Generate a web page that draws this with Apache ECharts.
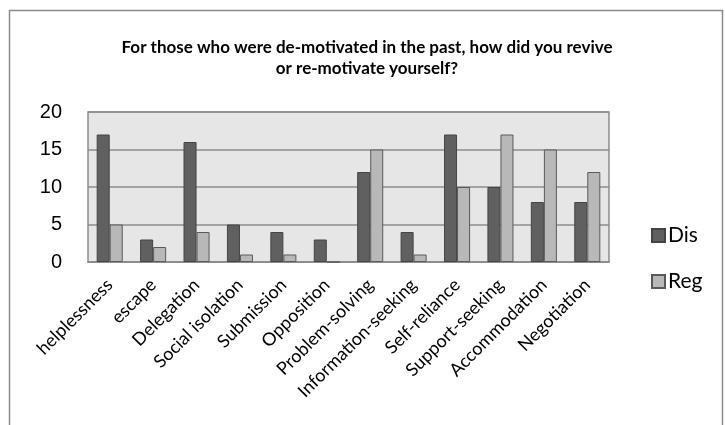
<!DOCTYPE html>
<html>
<head>
<meta charset="utf-8">
<script src="https://cdn.jsdelivr.net/npm/echarts@6/dist/echarts.min.js"></script>
<style>
  html, body { margin: 0; padding: 0; background: #ffffff; }
  #chart { width: 725px; height: 425px; }
</style>
</head>
<body>
<div id="chart"></div>
<script>
// Coping strategies and the number of respondents per group
const categories = ['helplessness', 'escape', 'Delegation', 'Social isolation', 'Submission', 'Opposition',
  'Problem-solving', 'Information-seeking', 'Self-reliance', 'Support-seeking', 'Accommodation', 'Negotiation'];
const disValues = [17, 3, 16, 5, 4, 3, 12, 4, 17, 10, 8, 8];
const regValues = [5, 2, 4, 1, 1, 0, 15, 1, 10, 17, 15, 12];
const yTicks = { min: 0, max: 20, interval: 5 };
const titleText = 'For those who were de-motivated in the past, how did you revive\nor re-motivate yourself?';

const chart = echarts.init(document.getElementById('chart'), null, { renderer: 'canvas' });

chart.setOption({
  animation: false,
  backgroundColor: '#ffffff',
  title: {
    text: titleText,
    left: 362,
    textAlign: 'center',
    top: 32,
    textStyle: {
      fontFamily: 'Lato',
      fontWeight: 'bold',
      fontSize: 17,
      lineHeight: 21,
      color: '#000000'
    }
  },
  legend: {
    orient: 'vertical',
    left: 646,
    top: 220,
    itemWidth: 13,
    itemHeight: 13,
    itemGap: 25,
    icon: 'rect',
    textStyle: { fontFamily: 'Lato', fontSize: 21, color: '#000000', padding: [0, 0, 0, -2] },
    data: ['Dis', 'Reg']
  },
  graphic: [{
    type: 'rect',
    shape: { x: 9.5, y: 10.5, width: 713, height: 440 },
    style: { fill: 'none', stroke: '#8a8a8a', lineWidth: 1.5 },
    silent: true
  }],
  grid: {
    left: 88, right: 116, top: 112, bottom: 163,
    show: true,
    backgroundColor: '#e6e6e6',
    borderColor: '#8c8c8c',
    borderWidth: 1.5
  },
  xAxis: {
    type: 'category',
    data: categories,
    axisLine: { lineStyle: { color: '#8c8c8c', width: 1.5 } },
    axisTick: { show: false },
    axisLabel: {
      interval: 0,
      rotate: 45,
      margin: 20,
      fontFamily: 'Lato',
      fontSize: 18,
      color: '#000000'
    }
  },
  yAxis: {
    type: 'value',
    min: yTicks.min,
    max: yTicks.max,
    interval: yTicks.interval,
    axisLine: { show: false },
    axisTick: { show: false },
    splitLine: { lineStyle: { color: '#8c8c8c', width: 1.5 } },
    axisLabel: {
      margin: 26,
      fontFamily: 'Liberation Sans',
      fontSize: 20,
      color: '#000000'
    }
  },
  series: [
    {
      name: 'Dis',
      type: 'bar',
      data: disValues,
      barGap: '0%',
      barCategoryGap: '40%',
      itemStyle: { color: '#606060', borderColor: '#444444', borderWidth: 1 }
    },
    {
      name: 'Reg',
      type: 'bar',
      data: regValues,
      itemStyle: { color: '#b8b8b8', borderColor: '#5a5a5a', borderWidth: 1 }
    }
  ]
});
</script>
</body>
</html>
